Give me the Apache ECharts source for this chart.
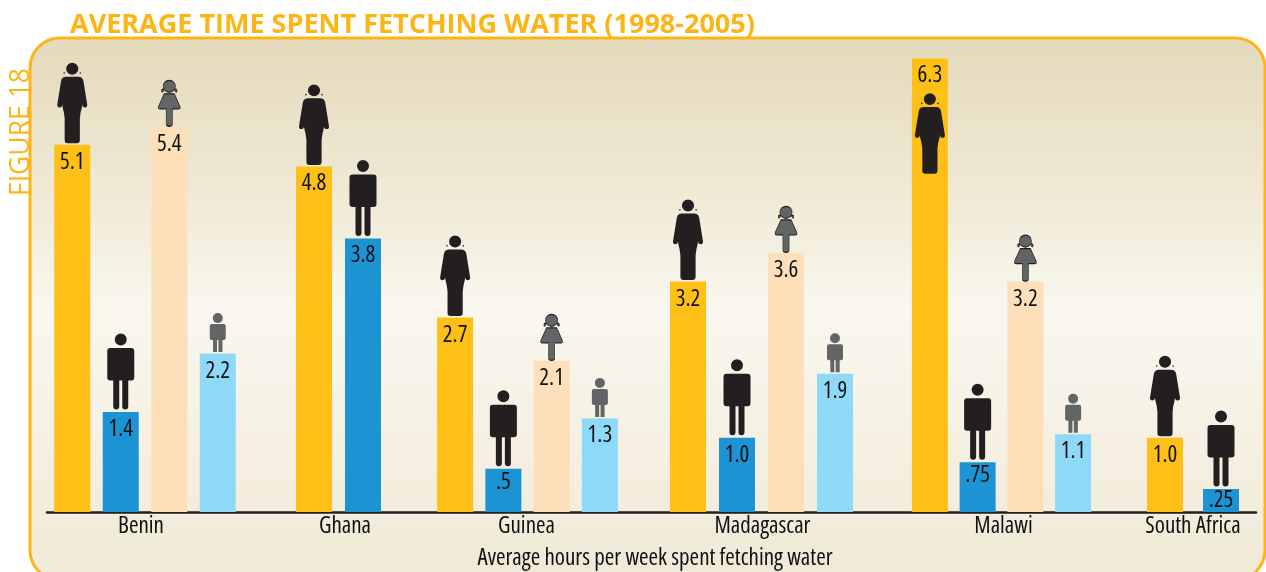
<!DOCTYPE html>
<html><head><meta charset="utf-8">
<style>html,body{margin:0;padding:0;background:#fff}#c{width:1266px;height:572px}</style>
<script src="https://cdn.jsdelivr.net/npm/echarts@6/dist/echarts.min.js"></script>
</head><body><div id="c"></div>
<script>
// Data. Bars are as tall as drawn; printed labels kept separately,
// because the .5, .75 and .25 bars are not drawn to the printed value.
const countries = ['Benin','Ghana','Guinea','Madagascar','Malawi','South Africa'];
const womenBars = [5.1,4.8,2.7,3.2,6.3,1.03];
const menBars   = [1.39,3.8,0.6,1.03,0.69,0.32];
const girlsBars = [5.35,null,2.1,3.6,3.2,null];
const boysBars  = [2.2,null,1.3,1.92,1.08,null];
const womenText = ['5.1','4.8','2.7','3.2','6.3','1.0'];
const menText   = ['1.4','3.8','.5','1.0','.75','.25'];
const girlsText = ['5.4','','2.1','3.6','3.2',''];
const boysText  = ['2.2','','1.3','1.9','1.1',''];
const axisTitle = 'Average hours per week spent fetching water';
const chartTitle = 'AVERAGE TIME SPENT FETCHING WATER (1998-2005)';
const figureLabel = 'FIGURE 18';

// Layout per country group
const groupLeft  = [48,289.5,431,663.5,906,1137];
const groupWidth = [194,98,193,196,191,112];
const nameShift  = [-4,6.5,-1,1,2,0];

const FONT = '"Open Sans","Liberation Sans Narrow",sans-serif';
const STRETCH = 'condensed';
const DARK = '#231f20', GREY = '#636466';
const ORANGE = '#fdb515';

const womanPath = 'path://M15 0A6 6 0 1 1 15 12A6 6 0 1 1 15 0ZM7 9.500A.8 .8 0 1 1 7 11.100A.8 .8 0 1 1 7 9.500ZM23 9.500A.8 .8 0 1 1 23 11.100A.8 .8 0 1 1 23 9.500ZM9 14L21 14Q25 14 26 18L29.800 42Q30 45 27.500 45Q25.500 45 25 43L24 33Q25.500 41 24.500 45Q23 50 22.500 56L22.500 78Q22.500 81 19.500 81L10.500 81Q7.500 81 7.500 78L7.500 56Q7 50 5.500 45Q4.500 41 6 33L5 43Q4.500 45 2.500 45Q0 45 .2 42L4 18Q5 14 9 14Z';
const manPath = 'path://M13.500 0A6 6 0 1 1 13.500 12A6 6 0 1 1 13.500 0ZM3 14.500L24 14.500Q27 14.500 27 17.500L27 44Q27 47 24 47L21 47L21 73Q21 76 18 76Q15 76 15 73L15 47L12 47L12 73Q12 76 9 76Q6 76 6 73L6 47L3 47Q0 47 0 44L0 17.500Q0 14.500 3 14.500Z';
const girlPath = 'path://M11 0A6 6 0 1 1 11 12A6 6 0 1 1 11 0ZM3.500 9.500Q5 8 5.500 10Q5 12 3.500 11.500ZM18.500 9.500Q17 8 16.500 10Q17 12 18.500 11.500ZM6 13.500L16 13.500L21.500 26Q22.500 28.500 20 28.500L14 28.500L14 44Q14 46 11 46Q8 46 8 44L8 28.500L2 28.500Q-.5 28.500 .5 26Z';
const boyPath = 'path://M8 0A5 5 0 1 1 8 10A5 5 0 1 1 8 0ZM2 11L14 11Q16 11 16 13L16 25Q16 27 14 27L12.700 27L12.700 39L8.700 39L8.700 27L7.300 27L7.300 39L3.300 39L3.300 27L2 27Q0 27 0 25L0 13Q0 11 2 11Z';

const kinds = [
  {bars:womenBars,text:womenText,color:'#fec016',symbol:womanPath,size:[30,80.5],gap:1.5,icon:DARK},
  {bars:menBars,  text:menText,  color:'#1c93d3',symbol:manPath,  size:[27,76],gap:2.5,icon:DARK},
  {bars:girlsBars,text:girlsText,color:'#fde0b9',symbol:girlPath, size:[22,46],gap:.5,icon:GREY},
  {bars:boysBars, text:boysText, color:'#8ed8f8',symbol:boyPath,  size:[16,39],gap:1.5,icon:GREY}
];

const grids=[],xAxes=[],yAxes=[],series=[];
countries.forEach((name,i)=>{
  const present = kinds.filter(k=>k.bars[i]!=null);
  grids.push({left:groupLeft[i],width:groupWidth[i],top:8,height:504,outerBoundsMode:'none'});
  const shift=nameShift[i];
  xAxes.push({gridIndex:i,type:'category',data:present.map((_,j)=>String(j)),
    axisLine:{show:false},axisTick:{show:false},axisLabel:{show:false},
    name,nameLocation:'middle',nameGap:3,
    nameTextStyle:{fontFamily:FONT,fontWeight:STRETCH,fontSize:23,color:'#111',
      padding:shift>0?[0,0,0,2*shift]:[0,-2*shift,0,0]}});
  yAxes.push({gridIndex:i,type:'value',min:0,max:7,show:false});
  series.push({type:'bar',xAxisIndex:i,yAxisIndex:i,barWidth:36,z:2,
    data:present.map(k=>({value:k.bars[i],itemStyle:{color:k.color},
      label:{show:true,position:'insideTop',distance:k.bars[i]<0.4?0:(k.bars[i]<0.8?2:6),formatter:k.text[i],
        fontFamily:FONT,fontWeight:STRETCH,fontSize:23,color:'#111'}}))});
  series.push({type:'scatter',xAxisIndex:i,yAxisIndex:i,z:3,silent:true,
    data:present.map((k,j)=>{
      const inside = k.bars[i] > 6;
      return {value:[j,k.bars[i]],symbol:k.symbol,symbolSize:k.size,
        symbolOffset:[0,inside?75:-(k.size[1]/2+k.gap)],
        itemStyle:{color:k.icon,opacity:1,
          borderColor:k.symbol===girlPath?DARK:undefined,
          borderWidth:k.symbol===girlPath?.8:0}};
    })});
});
// Shared baseline with the axis title
grids.push({left:47,width:1209,top:8,height:504,outerBoundsMode:'none'});
xAxes.push({gridIndex:6,type:'value',min:0,max:1,splitLine:{show:false},
  axisLine:{show:true,onZero:false,lineStyle:{color:DARK,width:2.5}},
  axisTick:{show:false},axisLabel:{show:false},
  name:axisTitle,nameLocation:'middle',nameGap:35,
  nameTextStyle:{fontFamily:FONT,fontWeight:STRETCH,fontSize:23,color:'#111',padding:[0,0,0,7]}});
yAxes.push({gridIndex:6,type:'value',min:0,max:1,show:false});

const chart=echarts.init(document.getElementById('c'),null,{renderer:'canvas'});
chart.setOption({
  animation:false,backgroundColor:'#fff',
  title:{text:chartTitle,left:70,top:12,padding:0,
    textStyle:{fontFamily:'"Open Sans",sans-serif',fontWeight:'bold',fontSize:27,color:ORANGE}},
  grid:grids,xAxis:xAxes,yAxis:yAxes,series,
  graphic:[
    {type:'rect',z:-10,silent:true,shape:{x:30,y:38,width:1235,height:542,r:30},
     style:{stroke:ORANGE,lineWidth:3,fill:{type:'linear',x:0,y:0,x2:0,y2:1,colorStops:[
       {offset:0,color:'#e4dabb'},{offset:.3,color:'#f0ead6'},{offset:.5,color:'#f9f7ef'},
       {offset:.75,color:'#f5f0e2'},{offset:1,color:'#efe9d6'}]}}},
    {type:'text',z:5,silent:true,x:8,y:196,rotation:Math.PI/2,
     style:{text:figureLabel,fontFamily:'"Open Sans",sans-serif',fontWeight:500,fontSize:26.5,fill:ORANGE,
       textAlign:'left',textVerticalAlign:'top'}}
  ]
});
</script></body></html>
